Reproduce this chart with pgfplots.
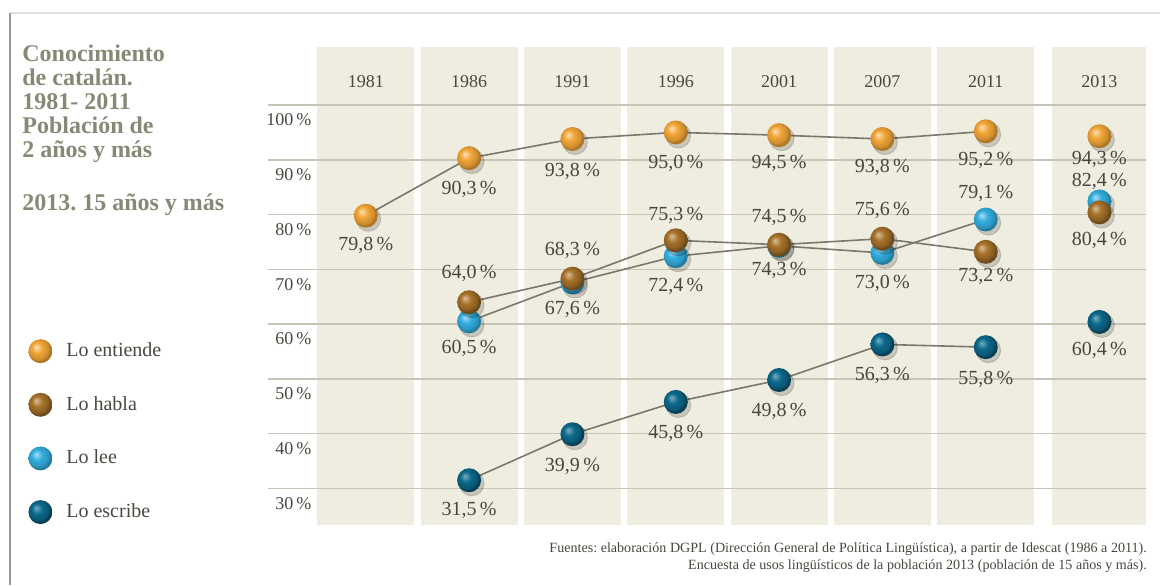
\documentclass[border=0pt]{standalone}
\usepackage{pgfplots}
\pgfplotsset{compat=1.18}
\usepackage{pgfplotstable}
\usepackage{fontspec}
\setmainfont{Liberation Serif}
\frenchspacing

\definecolor{cE}{HTML}{F2A637}
\definecolor{cH}{HTML}{A8732A}
\definecolor{cL}{HTML}{33AEDF}
\definecolor{cW}{HTML}{0B6A8C}
\definecolor{colbg}{HTML}{EFEDE0}
\definecolor{gridc}{HTML}{C6C4B6}
\definecolor{linec}{HTML}{7A786C}
\definecolor{txt}{HTML}{47473F}
\definecolor{titc}{HTML}{888877}

% shaded balls for the marks
\pgfdeclareradialshading{ballE}{\pgfqpoint{-9bp}{9bp}}{color(0bp)=(cE!35!white); color(11bp)=(cE); color(22bp)=(cE!85!black); color(25bp)=(cE!72!black); color(50bp)=(cE!72!black)}
\pgfdeclareradialshading{ballH}{\pgfqpoint{-9bp}{9bp}}{color(0bp)=(cH!45!white); color(11bp)=(cH); color(22bp)=(cH!80!black); color(25bp)=(cH!65!black); color(50bp)=(cH!65!black)}
\pgfdeclareradialshading{ballL}{\pgfqpoint{-9bp}{9bp}}{color(0bp)=(cL!40!white); color(11bp)=(cL); color(22bp)=(cL!85!black); color(25bp)=(cL!72!black); color(50bp)=(cL!72!black)}
\pgfdeclareradialshading{ballW}{\pgfqpoint{-9bp}{9bp}}{color(0bp)=(cW!55!white); color(11bp)=(cW); color(22bp)=(cW!80!black); color(25bp)=(cW!60!black); color(50bp)=(cW!60!black)}
\pgfdeclareplotmark{ballE}{\pgfpathcircle{\pgfpointorigin}{\pgfplotmarksize}\pgfshadepath{ballE}{0}\pgfusepath{discard}}
\pgfdeclareplotmark{ballH}{\pgfpathcircle{\pgfpointorigin}{\pgfplotmarksize}\pgfshadepath{ballH}{0}\pgfusepath{discard}}
\pgfdeclareplotmark{ballL}{\pgfpathcircle{\pgfpointorigin}{\pgfplotmarksize}\pgfshadepath{ballL}{0}\pgfusepath{discard}}
\pgfdeclareplotmark{ballW}{\pgfpathcircle{\pgfpointorigin}{\pgfplotmarksize}\pgfshadepath{ballW}{0}\pgfusepath{discard}}

% x: 0..6 = 1981..2011, 7.1 = 2013; dy = label offset in pt
\pgfplotstableread{
x y lab dy
0 79.8 79,8 -15
1 90.3 90,3 -15.5
2 93.8 93,8 -16
3 95.0 95,0 -15.5
4 94.5 94,5 -14
5 93.8 93,8 -14
6 95.2 95,2 -14.5
7.1 94.3 94,3 -11.5
}\entiende
\pgfplotstableread{
x y lab dy
1 64.0 64,0 14.5
2 68.3 68,3 14
3 75.3 75,3 12.5
4 74.5 74,5 13.5
5 75.6 75,6 14
6 73.2 73,2 -12.5
7.1 80.4 80,4 -14
}\habla
\pgfplotstableread{
x y lab dy
1 60.5 60,5 -13.5
2 67.6 67,6 -13.5
3 72.4 72,4 -15
4 74.3 74,3 -12.5
5 73.0 73,0 -15
6 79.1 79,1 13
7.1 82.4 82,4 10
}\lee
\pgfplotstableread{
x y lab dy
1 31.5 31,5 -15
2 39.9 39,9 -16
3 45.8 45,8 -15.5
4 49.8 49,8 -15.5
5 56.3 56,3 -15.5
6 55.8 55,8 -16
7.1 60.4 60,4 -14
}\escribe

\pgfplotsset{
  conn/.style={draw=linec, line width=0.8pt, mark=none, forget plot, restrict x to domain=-1:6.5},
  shad/.style={only marks, forget plot, mark=*, mark size=6.2pt, mark options={draw=none, fill=black, opacity=0.16, xshift=1.3pt, yshift=-1.6pt}},
  balls/.style={only marks, forget plot, mark=#1, mark size=6pt},
  labs/.style={draw=none, mark=none, forget plot, nodes near coords={\pgfplotspointmeta\,\%}, point meta=explicit symbolic,
    visualization depends on={\thisrow{dy}\as\dy},
    every node near coord/.append style={anchor=center, yshift=\dy pt, inner sep=0pt, font=\fontsize{10}{11}\selectfont, text=txt}},
}

\begin{document}
\begin{tikzpicture}
\path (0,0) rectangle (580.5pt,292.5pt);
\draw[black!12, line width=0.8pt] (5pt,286pt) -- (580.5pt,286pt);
\draw[black!40, line width=1.2pt] (5pt,286pt) -- (5pt,0pt);

\begin{axis}[
  at={(134pt,30pt)}, anchor=south west,
  scale only axis, width=439.5pt, height=239pt,
  xmin=-0.948, xmax=7.553, ymin=23.4, ymax=110.6,
  axis line style={draw=none},
  xtick=\empty,
  ytick={30,40,...,100},
  yticklabels={30\,\%,40\,\%,50\,\%,60\,\%,70\,\%,80\,\%,90\,\%,100\,\%},
  major tick length=0pt,
  ymajorgrids, grid style={draw=gridc, line width=0.8pt},
  yticklabel style={anchor=east, inner sep=0pt, xshift=22pt, yshift=-7.5pt, font=\fontsize{9}{10}\selectfont, text=txt},
  clip=false, set layers,
  legend style={at={(rel axis cs:-0.2730,0.390)}, anchor=north west, draw=none, fill=none, inner sep=0pt,
    row sep=14.4pt, font=\fontsize{10}{11}\selectfont, text=txt},
  legend cell align=left,
  legend image code/.code={\draw[#1] plot coordinates {(0pt,0pt)}; \path[draw=none, fill=none] (-6pt,-6pt) rectangle (11pt,6pt);},
]
\begin{pgfonlayer}{axis background}
\fill[colbg] (axis cs:-0.47,23.4) rectangle (axis cs:0.47,110.6);
\fill[colbg] (axis cs:0.53,23.4) rectangle (axis cs:1.47,110.6);
\fill[colbg] (axis cs:1.53,23.4) rectangle (axis cs:2.47,110.6);
\fill[colbg] (axis cs:2.53,23.4) rectangle (axis cs:3.47,110.6);
\fill[colbg] (axis cs:3.53,23.4) rectangle (axis cs:4.47,110.6);
\fill[colbg] (axis cs:4.53,23.4) rectangle (axis cs:5.47,110.6);
\fill[colbg] (axis cs:5.53,23.4) rectangle (axis cs:6.47,110.6);
\fill[colbg] (axis cs:6.64,23.4) rectangle (axis cs:7.553,110.6);
\end{pgfonlayer}

% year headings
\foreach \xx/\yr in {0/1981,1/1986,2/1991,3/1996,4/2001,5/2007,6/2011,7.1/2013}{
  \edef\tmp{\noexpand\node[font=\noexpand\fontsize{9}{10}\noexpand\selectfont, text=txt] at (axis cs:\xx,104.2) {\yr};}\tmp
}

\addlegendimage{only marks, mark=ballE, mark size=6pt}
\addlegendentry{Lo entiende}
\addlegendimage{only marks, mark=ballH, mark size=6pt}
\addlegendentry{Lo habla}
\addlegendimage{only marks, mark=ballL, mark size=6pt}
\addlegendentry{Lo lee}
\addlegendimage{only marks, mark=ballW, mark size=6pt}
\addlegendentry{Lo escribe}

\addplot[conn] table[x=x,y=y] {\entiende};
\addplot[conn] table[x=x,y=y] {\habla};
\addplot[conn] table[x=x,y=y] {\lee};
\addplot[conn] table[x=x,y=y] {\escribe};

\addplot[shad] table[x=x,y=y] {\escribe};
\addplot[balls=ballW] table[x=x,y=y] {\escribe};
\addplot[shad] table[x=x,y=y] {\lee};
\addplot[balls=ballL] table[x=x,y=y] {\lee};
\addplot[shad] table[x=x,y=y] {\habla};
\addplot[balls=ballH] table[x=x,y=y] {\habla};
\addplot[shad] table[x=x,y=y] {\entiende};
\addplot[balls=ballE] table[x=x,y=y] {\entiende};

\addplot[labs] table[x=x,y=y,meta=lab] {\entiende};
\addplot[labs] table[x=x,y=y,meta=lab] {\habla};
\addplot[labs] table[x=x,y=y,meta=lab] {\lee};
\addplot[labs] table[x=x,y=y,meta=lab] {\escribe};
\end{axis}

\node[anchor=north west, inner sep=0pt, align=left, text=titc, font=\bfseries\fontsize{12}{12}\selectfont] at (11pt,270pt)
  {Conocimiento\\de catalán.\\1981- 2011\\Población de\\2 años y más};
\node[anchor=base west, inner sep=0pt, text=titc, font=\bfseries\fontsize{12}{12}\selectfont] at (11pt,187pt)
  {2013. 15 años y más};
\node[anchor=base east, inner sep=0pt, text=txt, font=\fontsize{7.05}{8}\selectfont] at (574pt,16pt)
  {Fuentes: elaboración DGPL (Dirección General de Política Lingüística), a partir de Idescat (1986 a 2011).};
\node[anchor=base east, inner sep=0pt, text=txt, font=\fontsize{7.05}{8}\selectfont] at (574pt,7.5pt)
  {Encuesta de usos lingüísticos de la población 2013 (población de 15 años y más).};
\end{tikzpicture}
\end{document}
